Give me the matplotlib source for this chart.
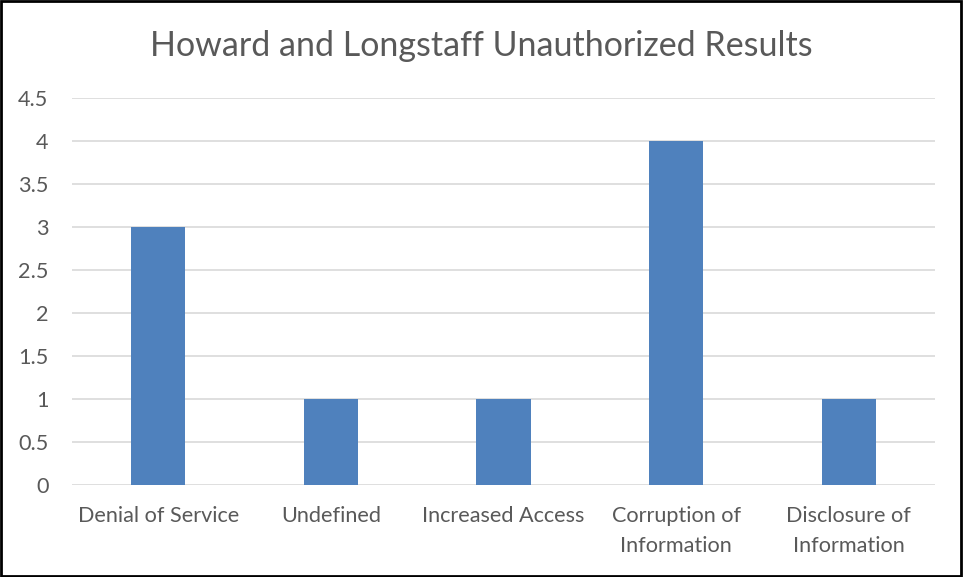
import matplotlib
matplotlib.use("Agg")
import matplotlib.pyplot as plt
from matplotlib.patches import Rectangle

categories = ["Denial of Service", "Undefined", "Increased Access", "Corruption of\nInformation", "Disclosure of\nInformation"]
values = [3, 1, 1, 4, 1]
yticks = [0, 0.5, 1, 1.5, 2, 2.5, 3, 3.5, 4, 4.5]
ytick_labels = ["0", "0.5", "1", "1.5", "2", "2.5", "3", "3.5", "4", "4.5"]
title = "Howard and Longstaff Unauthorized Results"

plt.rcParams['font.family'] = ['Lato', 'DejaVu Sans']
text_color = "#595959"

fig = plt.figure(figsize=(9.63, 5.77), dpi=100)
ax = fig.add_axes([72/963, 92/577, (935-72)/963, (485-98)/577])

x = list(range(len(categories)))
ax.bar(x, values, width=0.315, color="#4F81BD", zorder=3)
ax.set_xlim(-0.5, len(categories) - 0.5)
ax.set_ylim(0, 4.5)
ax.set_yticks(yticks)
ax.set_yticklabels(ytick_labels)
ax.set_xticks(x)
ax.set_xticklabels(categories, linespacing=1.62)
ax.grid(axis="y", color="#D9D9D9", linewidth=1.2, zorder=0)
for s in ax.spines.values():
    s.set_visible(False)
ax.tick_params(axis="both", length=0, labelsize=15.6, colors=text_color)
ax.tick_params(axis="y", pad=17)
ax.tick_params(axis="x", pad=15)
for lbl in ax.get_yticklabels():
    lbl.set_horizontalalignment("right")

fig.text(481/963, 1 - 46/577, title, ha="center", va="center", fontsize=24.5, color=text_color)

fig.patches.append(Rectangle((0.001, 0.002), 0.997, 0.996, transform=fig.transFigure,
                             fill=False, edgecolor="black", linewidth=2))

fig.savefig("out.png", dpi=100)
